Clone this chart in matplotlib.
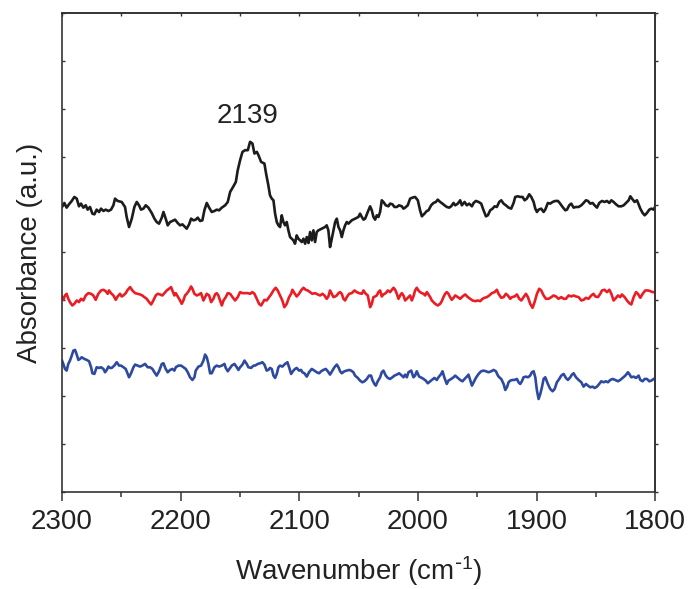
import numpy as np
import matplotlib
matplotlib.use("Agg")
import matplotlib.pyplot as plt
from matplotlib.ticker import MultipleLocator, NullFormatter

plt.rcParams['font.family'] = ['Liberation Sans', 'DejaVu Sans']
plt.rcParams['mathtext.default'] = 'regular'

# ---------------- data (wavenumber, absorbance a.u.) ----------------
black_x = [2300, 2298.0, 2296.1, 2294.1, 2291.8, 2289.6, 2287.6, 2285.7, 2284.0, 2282.0, 2280.0, 2278.4, 2276.4,
           2274.4, 2272.7, 2270.8, 2268.8, 2267.1, 2265.1, 2263.2, 2260.9, 2258.7, 2256.7, 2255.3, 2253.1, 2249.7,
           2246.9, 2245.5, 2243.5, 2241.2, 2239.0, 2237.0, 2235.1, 2233.4, 2231.4, 2229.4, 2227.2, 2224.4, 2222.1,
           2220.2, 2218.2, 2215.9, 2214.5, 2212.6, 2210.9, 2208.9, 2207.0, 2204.7, 2202.5, 2200.5, 2198.5, 2196.3,
           2194.9, 2192.9, 2191.2, 2189.2, 2187.3, 2185.6, 2183.6, 2181.7, 2180.0, 2178.0, 2176.0, 2173.8, 2171.5,
           2169.6, 2167.6, 2165.3, 2162.5, 2160.3, 2158.3, 2155.5, 2153.5, 2151.9, 2149.9, 2147.9, 2145.7, 2143.4,
           2141.5, 2139.5, 2137.8, 2135.8, 2134.4, 2132.2, 2129.4,
           2128.0, 2126.1, 2124.7, 2123.2, 2121.8, 2120.4, 2119.0, 2117.6, 2116.2, 2114.8, 2113.4, 2112.0, 2110.6,
           2109.2, 2107.8, 2106.4, 2105.0, 2103.6, 2102.2, 2100.8, 2099.4, 2097.9, 2096.5, 2095.1, 2093.7, 2092.3,
           2090.9, 2089.5, 2088.1, 2086.7, 2085.3, 2083.9, 2081.1, 2078.3, 2076.9, 2075.5, 2074.1, 2072.6, 2071.2,
           2069.8, 2068.4, 2067.0, 2065.6, 2064.2, 2062.8, 2061.4, 2060.0, 2058.6, 2055.8, 2053.0, 2050.2, 2048.8,
           2047.3, 2045.9, 2044.5, 2042.3, 2040.3, 2038.9, 2037.5, 2036.1, 2034.7, 2033.3, 2031.9, 2030.5, 2029.1,
           2027.1, 2024.9, 2023.5, 2021.5, 2019.8, 2017.8, 2015.9, 2013.6, 2012.2, 2010.8, 2008.6, 2006.6, 2004.6,
           2002.4, 2000.1, 1998.2, 1996.7, 1994.5, 1992.5, 1991.1, 1988.9, 1986.9, 1984.9, 1983.3, 1981.3, 1979.3,
           1977.6, 1975.7, 1973.7, 1972.0, 1970.0, 1968.6,
           1966.4, 1964.4, 1963.0, 1960.7, 1958.8, 1956.8, 1954.5, 1953.1, 1951.2, 1948.9, 1946.7, 1944.7, 1942.7,
           1941.1, 1939.1, 1937.1, 1935.4, 1933.5, 1931.5, 1929.8, 1927.8, 1925.9, 1923.6, 1921.4, 1919.4, 1918.0,
           1915.8, 1913.8, 1911.8, 1910.1, 1908.2, 1906.2, 1904.5, 1902.5, 1901.1, 1899.7, 1898.3, 1896.1, 1894.1,
           1892.7, 1890.5, 1888.5, 1886.5, 1884.3, 1882.0, 1880.1, 1878.1, 1875.8, 1874.4, 1872.5, 1870.8, 1868.8,
           1866.8, 1864.6, 1862.3, 1860.4, 1858.4, 1856.7, 1854.8, 1852.8, 1851.1, 1849.1, 1847.2, 1844.9, 1842.7,
           1840.7, 1838.7, 1837.0, 1835.1, 1833.1, 1830.9, 1828.6, 1826.6, 1824.7, 1822.4, 1821.0, 1819.6, 1817.4,
           1815.4, 1814.0, 1812.6, 1810.6, 1808.9, 1807.0, 1805.0, 1803.3, 1801.3, 1800]
black_y = [0.853, 0.865, 0.851, 0.861, 0.871, 0.883, 0.878, 0.855, 0.863, 0.851, 0.858, 0.845, 0.853,
           0.833, 0.831, 0.845, 0.838, 0.848, 0.841, 0.845, 0.841, 0.845, 0.858, 0.878, 0.871, 0.868,
           0.853, 0.823, 0.793, 0.818, 0.853, 0.868, 0.858, 0.845, 0.848, 0.858, 0.851, 0.835, 0.818,
           0.808, 0.803, 0.821, 0.838, 0.818, 0.798, 0.808, 0.811, 0.815, 0.805, 0.798, 0.801, 0.793,
           0.788, 0.801, 0.818, 0.813, 0.815, 0.821, 0.811, 0.813, 0.843, 0.865, 0.851, 0.838, 0.841,
           0.845, 0.843, 0.851, 0.858, 0.868, 0.898, 0.915, 0.928, 0.963, 0.993, 1.018, 1.023, 1.023,
           1.048, 1.043, 1.013, 1.018, 1.008, 0.988, 0.983,
           0.953, 0.918, 0.888, 0.878, 0.873, 0.833, 0.808, 0.798, 0.793, 0.828, 0.808, 0.798, 0.808,
           0.783, 0.763, 0.758, 0.753, 0.743, 0.768, 0.758, 0.753, 0.748, 0.758, 0.743, 0.763, 0.745,
           0.778, 0.753, 0.783, 0.748, 0.778, 0.783, 0.788, 0.793, 0.798, 0.783, 0.733, 0.758, 0.783,
           0.808, 0.818, 0.793, 0.783, 0.763, 0.783, 0.798, 0.808, 0.803, 0.813, 0.818, 0.823, 0.833,
           0.823, 0.815, 0.818, 0.838, 0.855, 0.843, 0.823, 0.815, 0.828, 0.823, 0.838, 0.873, 0.868,
           0.858, 0.855, 0.863, 0.861, 0.853, 0.853, 0.858, 0.855, 0.848, 0.851, 0.858, 0.878, 0.881,
           0.883, 0.873, 0.843, 0.825, 0.833, 0.841, 0.843, 0.858, 0.865, 0.868, 0.875, 0.868, 0.863,
           0.858, 0.853, 0.851, 0.855, 0.865, 0.858,
           0.863, 0.873, 0.858, 0.868, 0.858, 0.863, 0.855, 0.865, 0.871, 0.868, 0.863, 0.843, 0.825,
           0.828, 0.843, 0.848, 0.855, 0.853, 0.868, 0.873, 0.863, 0.858, 0.851, 0.848, 0.865, 0.883,
           0.885, 0.883, 0.883, 0.873, 0.878, 0.891, 0.883, 0.868, 0.848, 0.838, 0.845, 0.848, 0.838,
           0.845, 0.865, 0.863, 0.868, 0.871, 0.871, 0.863, 0.853, 0.843, 0.845, 0.858, 0.863, 0.851,
           0.853, 0.853, 0.858, 0.865, 0.873, 0.871, 0.863, 0.865, 0.858, 0.851, 0.865, 0.871, 0.868,
           0.871, 0.865, 0.873, 0.868, 0.861, 0.855, 0.855, 0.858, 0.865, 0.873, 0.885, 0.878, 0.868,
           0.873, 0.861, 0.848, 0.835, 0.828, 0.835, 0.845, 0.848, 0.845, 0.855]

red_x = [2300, 2298.9, 2297.5, 2296.1, 2294.7, 2293.3, 2291.3, 2289.6, 2287.6, 2285.7, 2284.0, 2282.0, 2280.0,
         2277.8, 2275.5, 2273.6, 2271.6, 2269.4, 2267.1, 2265.1, 2263.2, 2261.5, 2260.4, 2258.7, 2256.7, 2254.7,
         2253.1, 2251.1, 2249.7, 2248.3, 2246.3, 2244.6, 2242.6, 2240.7, 2238.4, 2236.2, 2234.2, 2232.3, 2230.6,
         2228.6, 2226.6, 2224.9, 2223.0, 2221.0, 2219.3, 2217.4, 2215.4, 2213.7, 2211.7, 2209.8, 2208.1, 2207.0,
         2205.3, 2204.1, 2202.5, 2200.5, 2199.1, 2197.7, 2196.3, 2194.9, 2192.9, 2191.2, 2190.1, 2188.4, 2186.4,
         2184.5, 2182.8, 2180.8, 2179.4, 2178.0, 2176.0, 2174.3, 2172.4, 2171.0, 2169.6, 2168.2, 2166.8, 2165.3,
         2163.9, 2162.0, 2160.3, 2158.3, 2156.3, 2154.1, 2151.9, 2149.9, 2147.9, 2145.7, 2143.4, 2141.5, 2139.5,
         2137.8, 2135.8, 2133.9, 2132.2, 2129.4,
         2127.5, 2125.5, 2123.8, 2121.8, 2119.9, 2118.2, 2116.2, 2114.3, 2112.6, 2110.6, 2108.6, 2106.9, 2105.8,
         2104.1, 2102.2, 2100.2, 2098.5, 2096.5, 2094.6, 2092.9, 2090.9, 2089.0, 2086.7, 2084.5, 2082.5, 2080.5,
         2078.8, 2076.9, 2075.5, 2074.1, 2072.6, 2071.2, 2069.8, 2068.4, 2067.0, 2065.6, 2064.2, 2062.8, 2061.4,
         2060.0, 2058.0, 2055.8, 2053.5, 2051.6, 2049.6, 2047.3, 2045.9, 2044.5, 2042.3, 2040.3, 2038.9, 2037.5,
         2036.1, 2034.7, 2033.3, 2031.9, 2030.5, 2029.1, 2027.1, 2025.4, 2023.5, 2022.0, 2020.6, 2019.2, 2017.8,
         2016.4, 2015.0, 2013.6, 2012.2, 2010.8, 2009.4, 2008.0, 2006.6, 2005.2, 2003.8, 2002.4, 2001.0, 1999.6,
         1998.2, 1996.7, 1995.3, 1993.9, 1992.5, 1991.1, 1989.7, 1988.3, 1986.9, 1985.5, 1983.3, 1981.3, 1979.9,
         1978.5, 1977.1, 1975.7, 1974.3, 1972.9, 1971.5, 1970.0, 1968.6,
         1966.4, 1964.4, 1962.4, 1960.2, 1957.9, 1956.0, 1954.0, 1951.7, 1949.5, 1947.5, 1945.6, 1943.9, 1941.9,
         1939.9, 1937.7, 1935.4, 1933.5, 1932.1, 1929.8, 1927.8, 1925.9, 1924.2, 1922.2, 1920.8, 1918.6, 1916.6,
         1914.6, 1912.9, 1911.0, 1909.0, 1907.3, 1905.4, 1903.4, 1901.7, 1899.7, 1897.8, 1896.1, 1894.1, 1892.1,
         1889.9, 1887.6, 1885.7, 1883.7, 1881.5, 1879.2, 1877.2, 1875.3, 1873.0, 1870.8, 1868.8, 1866.8, 1864.6,
         1862.3, 1860.4, 1858.4, 1856.2, 1853.9, 1852.0, 1850.5, 1848.3, 1846.3, 1844.9, 1842.7, 1840.7, 1838.7,
         1837.0, 1835.1, 1833.7, 1831.4, 1829.5, 1828.1, 1825.8, 1823.8, 1821.9, 1820.2, 1818.2, 1816.2, 1814.6,
         1812.6, 1810.6, 1808.4, 1806.1, 1804.2, 1802.2, 1800]
red_y = [0.583, 0.575, 0.588, 0.593, 0.578, 0.568, 0.558, 0.563, 0.573, 0.568, 0.578, 0.573, 0.588,
         0.595, 0.593, 0.588, 0.575, 0.593, 0.603, 0.605, 0.601, 0.593, 0.603, 0.595, 0.588, 0.575,
         0.585, 0.593, 0.585, 0.588, 0.595, 0.605, 0.613, 0.603, 0.595, 0.593, 0.591, 0.588, 0.583,
         0.578, 0.568, 0.561, 0.573, 0.588, 0.593, 0.591, 0.588, 0.595, 0.603, 0.608, 0.613, 0.603,
         0.588, 0.595, 0.585, 0.573, 0.563, 0.573, 0.588, 0.593, 0.603, 0.615, 0.608, 0.593, 0.588,
         0.591, 0.595, 0.573, 0.583, 0.593, 0.588, 0.568, 0.578, 0.591, 0.595, 0.588, 0.573, 0.558,
         0.573, 0.583, 0.595, 0.593, 0.583, 0.573, 0.583, 0.598, 0.595, 0.595, 0.595, 0.593, 0.598,
         0.593, 0.578, 0.563, 0.558, 0.575,
         0.573, 0.583, 0.591, 0.603, 0.611, 0.603, 0.588, 0.573, 0.553, 0.563, 0.583, 0.593, 0.605,
         0.595, 0.585, 0.593, 0.603, 0.611, 0.605, 0.603, 0.598, 0.593, 0.595, 0.591, 0.588, 0.593,
         0.588, 0.578, 0.585, 0.603, 0.593, 0.583, 0.585, 0.588, 0.595, 0.598, 0.593, 0.578, 0.573,
         0.583, 0.593, 0.595, 0.603, 0.598, 0.595, 0.593, 0.603, 0.595, 0.588, 0.553, 0.563, 0.583,
         0.585, 0.588, 0.598, 0.603, 0.585, 0.591, 0.595, 0.603, 0.598, 0.605, 0.611, 0.605, 0.593,
         0.578, 0.588, 0.595, 0.588, 0.573, 0.578, 0.583, 0.588, 0.573, 0.585, 0.603, 0.611, 0.603,
         0.598, 0.595, 0.593, 0.588, 0.598, 0.591, 0.583, 0.573, 0.568, 0.563, 0.558, 0.563, 0.571,
         0.583, 0.593, 0.598, 0.593, 0.583, 0.575, 0.581, 0.588,
         0.583, 0.578, 0.585, 0.591, 0.583, 0.578, 0.573, 0.571, 0.573, 0.571, 0.578, 0.581, 0.583,
         0.588, 0.595, 0.598, 0.605, 0.593, 0.581, 0.583, 0.593, 0.588, 0.578, 0.583, 0.585, 0.591,
         0.578, 0.573, 0.583, 0.593, 0.583, 0.563, 0.551, 0.568, 0.593, 0.608, 0.603, 0.588, 0.578,
         0.578, 0.583, 0.588, 0.585, 0.578, 0.583, 0.578, 0.578, 0.588, 0.585, 0.588, 0.585, 0.583,
         0.573, 0.575, 0.581, 0.578, 0.588, 0.593, 0.585, 0.583, 0.593, 0.603, 0.605, 0.598, 0.605,
         0.593, 0.573, 0.578, 0.588, 0.583, 0.591, 0.583, 0.573, 0.565, 0.561, 0.583, 0.598, 0.593,
         0.581, 0.593, 0.603, 0.603, 0.601, 0.598, 0.598]

blue_x = [2300, 2298.9, 2297.5, 2296.1, 2294.7, 2293.3, 2291.8, 2290.4, 2289.0, 2287.6, 2286.2, 2284.8, 2283.4,
          2281.2, 2279.2, 2277.2, 2275.5, 2274.4, 2272.7, 2270.8, 2268.8, 2267.1, 2265.1, 2263.7, 2262.3, 2260.9,
          2259.5, 2258.1, 2255.9, 2253.9, 2251.9, 2250.2, 2248.3, 2246.3, 2244.6, 2243.5, 2241.8, 2239.8, 2238.4,
          2236.2, 2234.2, 2232.3, 2230.0, 2227.8, 2225.8, 2223.8, 2222.1, 2220.2, 2218.2, 2215.9, 2214.5, 2212.6,
          2210.9, 2208.9, 2207.0, 2205.3, 2204.1, 2201.9, 2199.6, 2197.7, 2195.7, 2194.0, 2192.1, 2190.1, 2188.4,
          2187.3, 2185.0, 2182.8, 2180.8, 2179.4, 2178.0, 2176.6, 2175.2, 2173.8, 2171.5, 2169.6, 2167.6, 2165.3,
          2163.1, 2162.0, 2160.3, 2158.3, 2156.9, 2154.7, 2152.7, 2151.3, 2149.9, 2147.9, 2146.2, 2144.3, 2142.9,
          2140.6, 2138.6, 2137.2, 2135.0, 2133.0, 2131.1, 2129.4,
          2127.5, 2126.1, 2124.7, 2123.2, 2121.8, 2120.4, 2119.0, 2117.6, 2116.2, 2114.3, 2112.0, 2110.0, 2108.6,
          2106.9, 2105.0, 2103.6, 2102.2, 2100.2, 2098.5, 2097.4, 2095.7, 2093.7, 2091.8, 2089.5, 2087.3, 2085.3,
          2083.3, 2081.6, 2079.7, 2077.7, 2076.0, 2074.1, 2072.1, 2070.4, 2068.4, 2067.0, 2065.6, 2064.2, 2062.0,
          2060.0, 2058.0, 2056.3, 2054.4, 2053.0, 2050.7, 2048.8, 2046.8, 2045.1, 2043.1, 2041.2, 2039.5, 2038.4,
          2036.7, 2035.5, 2033.9, 2031.9, 2030.5, 2029.1, 2027.1, 2025.4, 2023.5, 2021.5, 2019.8, 2017.8, 2015.9,
          2013.6, 2012.2, 2010.8, 2009.4, 2008.0, 2005.7, 2003.8, 2002.4, 2001.0, 1999.0, 1996.7, 1995.3, 1993.4,
          1991.7, 1989.7, 1988.3, 1986.1, 1984.1, 1982.7, 1980.4, 1979.3, 1977.6, 1975.7, 1974.3, 1972.0, 1970.0,
          1968.6,
          1966.4, 1964.4, 1962.4, 1960.7, 1958.8, 1957.4, 1956.0, 1954.5, 1953.1, 1951.2, 1948.9, 1946.7, 1944.7,
          1942.7, 1940.5, 1938.2, 1936.3, 1934.3, 1932.6, 1931.5, 1929.8, 1927.8, 1926.4, 1925.0, 1923.6, 1922.2,
          1920.3, 1918.6, 1916.6, 1915.2, 1913.8, 1912.4, 1911.0, 1909.0, 1907.3, 1905.4, 1904.0, 1902.5, 1901.1,
          1899.7, 1898.3, 1896.9, 1895.5, 1894.1, 1892.7, 1890.5, 1888.5, 1886.5, 1884.8, 1882.9, 1880.9, 1879.2,
          1877.2, 1875.3, 1873.6, 1871.6, 1870.2, 1868.8, 1866.8, 1864.6, 1862.3, 1860.4, 1858.4, 1856.7, 1854.8,
          1852.8, 1851.1, 1849.1, 1847.2, 1845.5, 1843.5, 1841.5, 1839.9, 1837.9, 1835.9, 1833.7, 1831.4, 1829.5,
          1827.5, 1825.2, 1823.0, 1821.9, 1820.2, 1818.2, 1816.2, 1814.0, 1812.6, 1810.6, 1808.9, 1807.0, 1805.0,
          1803.3, 1801.3, 1800]
blue_y = [0.393, 0.383, 0.368, 0.363, 0.383, 0.393, 0.408, 0.423, 0.425, 0.411, 0.395, 0.398, 0.403,
          0.398, 0.395, 0.391, 0.373, 0.355, 0.353, 0.373, 0.371, 0.373, 0.368, 0.358, 0.365, 0.375,
          0.371, 0.371, 0.378, 0.388, 0.378, 0.378, 0.373, 0.368, 0.353, 0.343, 0.355, 0.373, 0.381,
          0.378, 0.375, 0.378, 0.383, 0.373, 0.373, 0.368, 0.358, 0.348, 0.361, 0.383, 0.385, 0.368,
          0.358, 0.365, 0.368, 0.363, 0.373, 0.378, 0.378, 0.373, 0.368, 0.358, 0.343, 0.335, 0.343,
          0.363, 0.375, 0.378, 0.393, 0.411, 0.403, 0.383, 0.355, 0.355, 0.373, 0.378, 0.375, 0.378,
          0.383, 0.371, 0.361, 0.371, 0.378, 0.383, 0.373, 0.365, 0.373, 0.381, 0.393, 0.383, 0.373,
          0.371, 0.378, 0.378, 0.383, 0.385, 0.388, 0.381,
          0.363, 0.365, 0.371, 0.368, 0.348, 0.341, 0.353, 0.373, 0.378, 0.375, 0.383, 0.388, 0.373,
          0.353, 0.363, 0.368, 0.371, 0.363, 0.365, 0.358, 0.355, 0.345, 0.358, 0.368, 0.363, 0.358,
          0.355, 0.361, 0.365, 0.368, 0.361, 0.351, 0.363, 0.373, 0.381, 0.373, 0.361, 0.355, 0.361,
          0.363, 0.365, 0.363, 0.358, 0.348, 0.341, 0.333, 0.328, 0.331, 0.338, 0.348, 0.348, 0.335,
          0.323, 0.318, 0.331, 0.343, 0.358, 0.363, 0.348, 0.341, 0.338, 0.343, 0.348, 0.351, 0.355,
          0.348, 0.343, 0.351, 0.343, 0.358, 0.363, 0.343, 0.348, 0.361, 0.345, 0.341, 0.338, 0.333,
          0.325, 0.331, 0.335, 0.341, 0.335, 0.343, 0.353, 0.361, 0.341, 0.323, 0.333, 0.338, 0.343,
          0.348,
          0.341, 0.335, 0.331, 0.338, 0.345, 0.351, 0.335, 0.318, 0.328, 0.341, 0.353, 0.361, 0.363,
          0.361, 0.358, 0.361, 0.365, 0.361, 0.348, 0.343, 0.338, 0.323, 0.305, 0.313, 0.328, 0.333,
          0.335, 0.335, 0.338, 0.328, 0.323, 0.331, 0.343, 0.345, 0.343, 0.348, 0.358, 0.361, 0.343,
          0.303, 0.278, 0.293, 0.313, 0.338, 0.343, 0.323, 0.308, 0.301, 0.308, 0.328, 0.338, 0.348,
          0.353, 0.341, 0.335, 0.343, 0.351, 0.355, 0.343, 0.335, 0.328, 0.315, 0.323, 0.318, 0.313,
          0.315, 0.311, 0.315, 0.323, 0.331, 0.328, 0.331, 0.328, 0.335, 0.338, 0.335, 0.331, 0.335,
          0.341, 0.348, 0.358, 0.353, 0.343, 0.345, 0.341, 0.348, 0.335, 0.331, 0.338, 0.338, 0.331,
          0.333, 0.338, 0.341]

x_ticks = [2300, 2200, 2100, 2000, 1900, 1800]
peak_label = "2139"
peak_pos = (2144, 1.125)
x_label = r"Wavenumber (cm$^{\text{-}1}$)"
y_label = "Absorbance (a.u.)"

# ---------------- figure ----------------
fig = plt.figure(figsize=(6.89, 5.89), dpi=100)
ax = fig.add_axes([0.090, 0.165, 0.861, 0.813])

ax.plot(black_x, black_y, color='#1c1c1c', lw=1.9)
ax.plot(red_x, red_y, color='#ec1c24', lw=1.9)
ax.plot(blue_x, blue_y, color='#2d4aa0', lw=1.9)

ax.set_xlim(2300, 1800)
ax.set_ylim(0, 1.434)

ax.set_xticks(x_ticks)
ax.set_xticklabels([str(t) for t in x_ticks])
ax.xaxis.set_minor_locator(MultipleLocator(50))
ax.set_yticks(np.linspace(0, 1.434, 11))
ax.yaxis.set_major_formatter(NullFormatter())

for s in ax.spines.values():
    s.set_linewidth(1.2)
    s.set_color('#333333')

ax.tick_params(axis='x', which='major', direction='out', length=6.5, width=1.1,
               labelsize=20, pad=6, colors='#333333', labelcolor='#222222')
ax.tick_params(axis='x', which='minor', direction='out', length=3.5, width=1.1, colors='#333333')
ax.tick_params(axis='y', which='major', direction='in', length=2.5, width=1.0, colors='#333333')

top = ax.secondary_xaxis('top')
top.set_xticks(x_ticks)
top.xaxis.set_minor_locator(MultipleLocator(50))
top.xaxis.set_major_formatter(NullFormatter())
top.tick_params(which='both', direction='in', length=2.5, width=1.0, colors='#333333')
top.spines['top'].set_linewidth(1.2)
top.spines['top'].set_color('#333333')

right = ax.secondary_yaxis('right')
right.set_yticks(np.linspace(0, 1.434, 11))
right.yaxis.set_major_formatter(NullFormatter())
right.tick_params(which='both', direction='out', length=2.0, width=1.0, colors='#333333')
right.spines['right'].set_linewidth(1.2)
right.spines['right'].set_color('#333333')

ax.set_xlabel(x_label, fontsize=20, labelpad=14, color='#222222')
ax.set_ylabel(y_label, fontsize=20, labelpad=10, color='#222222')

ax.text(peak_pos[0], peak_pos[1], peak_label, fontsize=20, ha='center', va='center', color='#222222')

fig.savefig('out.png', dpi=100)
